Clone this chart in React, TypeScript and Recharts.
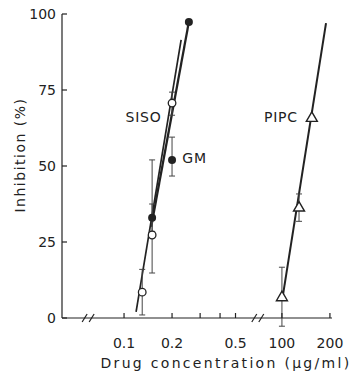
import { ComposedChart, XAxis, YAxis, Line, Scatter, ErrorBar, ReferenceDot } from 'recharts';

// concentrations in µg/ml, inhibition in %
const sisoConc = [0.13, 0.15, 0.2];
const sisoInhib = [8.5, 27.3, 70.7];
const sisoErrLow = [7.5, 12.5, 4];
const sisoErrHigh = [7.5, 24.7, 3.6];

const gmConc = [0.15, 0.2, 0.255];
const gmInhib = [33, 52, 97.4];
const gmErrLow = [4.5, 5.3, 0];
const gmErrHigh = [4.5, 7.5, 0];

const pipcConc = [100, 128, 154];
const pipcInhib = [7, 36.5, 66];
const pipcErrLow = [9.7, 4.7, 0];
const pipcErrHigh = [9.7, 4.3, 0];

// fitted lines (end points)
const sisoFitConc = [0.119, 0.228];
const sisoFitInhib = [2, 91.5];
const gmFitConc = [0.148, 0.255];
const gmFitInhib = [30, 97.4];
const pipcFitConc = [101.5, 189];
const pipcFitInhib = [7.5, 97];

const xTickConc = [0.1, 0.2, 0.3, 0.4, 0.5, 100, 200];
const xTickLabels = ['0.1', '0.2', '', '', '0.5', '100', '200'];
const yTicks = [0, 25, 50, 75, 100];
const breakConc = [0.0604, 71.6];

const seriesLabels = [
  { text: 'SISO', conc: 0.172, inhib: 66, anchor: 'end' },
  { text: 'GM', conc: 0.232, inhib: 52.5, anchor: 'start' },
  { text: 'PIPC', conc: 126, inhib: 66, anchor: 'end' },
];

// broken log axis: the 100-200 decade is shifted next to 0.5
const toU = (c: number) => (c < 1 ? Math.log10(c) : Math.log10(c) - 2.01);

const toPoints = (conc: number[], inhib: number[], lo: number[], hi: number[]) =>
  conc.map((c, i) => ({ u: toU(c), y: inhib[i], err: [lo[i], hi[i]] }));
const toFit = (conc: number[], inhib: number[]) => conc.map((c, i) => ({ u: toU(c), y: inhib[i] }));

const sisoPts = toPoints(sisoConc, sisoInhib, sisoErrLow, sisoErrHigh);
const gmPts = toPoints(gmConc, gmInhib, gmErrLow, gmErrHigh);
const pipcPts = toPoints(pipcConc, pipcInhib, pipcErrLow, pipcErrHigh);
const withErr = (pts: any[]) => pts.filter((p) => p.err[0] > 0 || p.err[1] > 0);

const ink = '#222';
const font = '"DejaVu Sans", sans-serif';

const XTick = (props: any) => {
  const { x, y, index } = props;
  return (
    <g>
      <line x1={x} y1={y} x2={x} y2={y - 5} stroke={ink} strokeWidth={1.2} />
      <text x={x} y={y + 30} textAnchor="middle" fontSize={14} fill={ink} fontFamily={font}>
        {xTickLabels[index]}
      </text>
    </g>
  );
};

const YTick = (props: any) => {
  const { x, y, payload } = props;
  return (
    <g>
      <line x1={x} y1={y} x2={x + 5} y2={y} stroke={ink} strokeWidth={1.2} />
      <text x={x - 6} y={y + 5} textAnchor="end" fontSize={14} fill={ink} fontFamily={font}>
        {payload.value}
      </text>
    </g>
  );
};

const BreakMark = (props: any) => {
  const { cx, cy } = props;
  return (
    <g stroke={ink} strokeWidth={1.2}>
      <line x1={cx - 7} y1={cy + 4} x2={cx - 2} y2={cy - 4} />
      <line x1={cx} y1={cy + 4} x2={cx + 5} y2={cy - 4} />
    </g>
  );
};

const OpenCircle = (props: any) => (
  <circle cx={props.cx} cy={props.cy} r={3.8} fill="#fff" stroke={ink} strokeWidth={1.3} />
);
const FilledCircle = (props: any) => <circle cx={props.cx} cy={props.cy} r={4} fill={ink} />;
const Triangle = (props: any) => {
  const { cx, cy } = props;
  return (
    <path
      d={`M${cx},${cy - 5.5} L${cx + 5.5},${cy + 4} L${cx - 5.5},${cy + 4} Z`}
      fill="#fff"
      stroke={ink}
      strokeWidth={1.4}
    />
  );
};
const NoShape = () => <g />;

export default function App() {
  return (
    <div style={{ position: 'absolute', left: 0, top: 0, background: '#fff' }}>
      <ComposedChart width={352} height={376} margin={{ top: 14, right: 20, bottom: 0, left: 0 }}>
        <XAxis
          type="number"
          dataKey="u"
          domain={[-1.389, 0.304]}
          allowDataOverflow
          ticks={xTickConc.map(toU)}
          interval={0}
          height={58}
          tickSize={0}
          tickMargin={0}
          tick={<XTick />}
          tickLine={false}
          axisLine={{ stroke: ink, strokeWidth: 1.2 }}
          label={{
            content: (p: any) => (
              <text
                x={p.viewBox.x + 164}
                y={p.viewBox.y + 50}
                textAnchor="middle"
                fontSize={14}
                letterSpacing={2.3}
                fill={ink}
                fontFamily={font}
              >
                Drug concentration (μg/ml)
              </text>
            ),
          }}
        />
        <YAxis
          type="number"
          dataKey="y"
          domain={[0, 100]}
          allowDataOverflow
          ticks={yTicks}
          width={62}
          tickSize={0}
          tickMargin={0}
          tick={<YTick />}
          tickLine={false}
          axisLine={{ stroke: ink, strokeWidth: 1.2 }}
          label={{
            content: (p: any) => {
              const x = p.viewBox.x + 25;
              const y = p.viewBox.y + 141;
              return (
                <text
                  x={x}
                  y={y}
                  transform={`rotate(-90 ${x} ${y})`}
                  textAnchor="middle"
                  fontSize={14}
                  letterSpacing={1.5}
                  fill={ink}
                  fontFamily={font}
                >
                  Inhibition (%)
                </text>
              );
            },
          }}
        />

        {breakConc.map((c) => (
          <ReferenceDot key={c} x={toU(c)} y={0} ifOverflow="visible" shape={<BreakMark />} />
        ))}

        <Line data={toFit(sisoFitConc, sisoFitInhib)} dataKey="y" type="linear" stroke={ink} strokeWidth={1.7} dot={false} isAnimationActive={false} />
        <Line data={toFit(gmFitConc, gmFitInhib)} dataKey="y" type="linear" stroke={ink} strokeWidth={2.3} dot={false} isAnimationActive={false} />
        <Line data={toFit(pipcFitConc, pipcFitInhib)} dataKey="y" type="linear" stroke={ink} strokeWidth={2} dot={false} isAnimationActive={false} />

        {[sisoPts, gmPts, pipcPts].map((pts, i) => (
          <Scatter key={`e${i}`} data={withErr(pts)} dataKey="y" shape={<NoShape />} isAnimationActive={false}>
            <ErrorBar dataKey="err" direction="y" width={3} stroke="#444" strokeWidth={1} />
          </Scatter>
        ))}

        <Scatter data={sisoPts} dataKey="y" shape={<OpenCircle />} isAnimationActive={false} />
        <Scatter data={gmPts} dataKey="y" shape={<FilledCircle />} isAnimationActive={false} />
        <Scatter data={pipcPts} dataKey="y" shape={<Triangle />} isAnimationActive={false} />

        {seriesLabels.map((l) => (
          <ReferenceDot
            key={l.text}
            x={toU(l.conc)}
            y={l.inhib}
            ifOverflow="visible"
            shape={(p: any) => (
              <text
                x={p.cx}
                y={p.cy + 5}
                textAnchor={l.anchor}
                fontSize={14}
                letterSpacing={0.8}
                fill={ink}
                fontFamily={font}
              >
                {l.text}
              </text>
            )}
          />
        ))}
      </ComposedChart>
    </div>
  );
}
